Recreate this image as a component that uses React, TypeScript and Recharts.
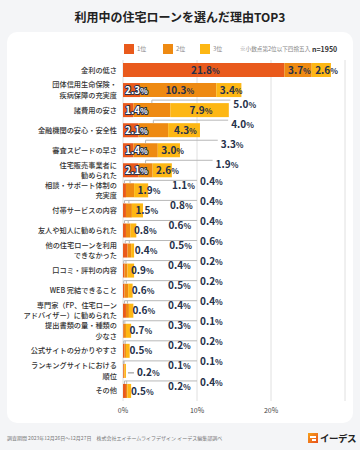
import { Bar, BarChart, CartesianGrid, XAxis, YAxis } from "recharts"

// reasons, top to bottom
const reasons = [
    "金利の低さ",
    "団体信用生命保険・\n疾病保障の充実度",
    "諸費用の安さ",
    "金融機関の安心・安全性",
    "審査スピードの早さ",
    "住宅販売事業者に\n勧められた",
    "相談・サポート体制の\n充実度",
    "付帯サービスの内容",
    "友人や知人に勧められた",
    "他の住宅ローンを利用\nできなかった",
    "口コミ・評判の内容",
    "WEB 完結できること",
    "専門家（FP、住宅ローン\nアドバイザー）に勧められた",
    "提出書類の量・種類の\n少なさ",
    "公式サイトの分かりやすさ",
    "ランキングサイトにおける\n順位",
    "その他",
]
const rank1 = [21.8, 2.3, 1.4, 2.1, 1.4, 2.1, 0.4, 0.4, 0.4, 0.6, 0.2, 0.2, 0.4, 0.1, 0.2, 0.1, 0.4]
const rank2 = [3.7, 10.3, 5.0, 4.0, 3.3, 1.9, 1.1, 0.8, 0.6, 0.5, 0.4, 0.5, 0.4, 0.3, 0.2, 0.1, 0.2]
const rank3 = [2.6, 3.4, 7.9, 4.3, 3.0, 2.6, 1.9, 1.5, 0.8, 0.4, 0.9, 0.6, 0.6, 0.7, 0.5, 0.2, 0.5]
const rankNames = ["1位", "2位", "3位"]
const xTicks = [0, 10, 20]

const C1 = "#E95A1C"
const C2 = "#EE8A12"
const C3 = "#FDB714"
const INK = "#25304a"
const LEADER = "#b8b8b8"
const FONT = '"Noto Sans CJK JP", "Noto Sans", sans-serif'

const data = reasons.map((name, i) => ({ name, r1: rank1[i], r2: rank2[i], r3: rank3[i] }))

// rough width of a "12.3%" label
const labelW = (v: number) =>
    v
        .toFixed(1)
        .split("")
        .reduce((s, c) => s + (c === "." ? 2.6 : 5.3), 0) + 6.8

function Pct({ x, y, v, white }: { x: number; y: number; v: number; white?: boolean }) {
    return (
        <text
            x={x}
            y={y}
            dy="0.36em"
            fontFamily={FONT}
            fontWeight={700}
            fontSize={10}
            fill={white ? "#fff" : INK}
            stroke={white ? INK : "none"}
            strokeWidth={white ? 2 : 0}
            strokeLinejoin="round"
            paintOrder="stroke"
        >
            {v.toFixed(1)}
            <tspan fontSize={8}>%</tspan>
        </text>
    )
}

// draws the 3位 segment plus every label of the row, so the labels sit above all bars
function RowShape(props: any) {
    const { x, y, width, height, index, payload } = props
    const { r1, r2, r3 } = payload
    const k = width / r3
    const x0 = x - (r1 + r2) * k
    const e1 = x0 + r1 * k
    const e2 = x
    const end = x + width
    const cy = y + height / 2
    const lineY = cy - 10
    const parts: any[] = [<rect key="r" x={x} y={y} width={width} height={height} fill={C3} />]

    if (index < 6) {
        const w = labelW(r1)
        const lx = Math.max((x0 + e1) / 2 - w / 2, x0 + 2)
        parts.push(<Pct key="l1" x={lx} y={cy} v={r1} white={w > e1 - x0} />)
    }
    if (index < 2) {
        const w = labelW(r2)
        parts.push(<Pct key="l2" x={Math.max((e1 + e2) / 2 - w / 2, e1 + 2)} y={cy} v={r2} />)
    } else if (index < 6) {
        const m2 = (e1 + e2) / 2
        parts.push(
            <path key="p2" d={`M${m2},${y} V${lineY} H${e2 + 60}`} stroke={LEADER} fill="none" />,
            <Pct key="l2" x={e2 + 63} y={cy - 6} v={r2} />
        )
    } else {
        const m1 = (x0 + e1) / 2
        const m2 = (e1 + e2) / 2
        const farX = x0 + 77
        const nearX = Math.max(e2 + 38, x0 + 45)
        parts.push(
            <path
                key="p1"
                d={`M${m1},${y} V${lineY} H${farX - 3} M${m2},${y} V${lineY}`}
                stroke={LEADER}
                fill="none"
            />,
            <Pct key="l1" x={farX} y={cy - 9} v={r1} />,
            <Pct key="l2" x={nearX} y={cy - 5} v={r2} />
        )
    }

    if (width < 2.5) {
        parts.push(
            <line key="d3" x1={end + 2} x2={end + 8} y1={cy + 2} y2={cy + 2} stroke="#888" />,
            <Pct key="l3" x={end + 11} y={cy + 2} v={r3} />
        )
    } else {
        const w = labelW(r3)
        parts.push(<Pct key="l3" x={Math.max(x + width / 2 - w / 2, x + 3.5)} y={cy} v={r3} />)
    }
    return <g>{parts}</g>
}

function ReasonTick({ x, y, payload }: any) {
    const lines = String(payload.value).split("\n")
    return (
        <text x={x} y={y} textAnchor="end" fontFamily={FONT} fontSize={7.2} fontWeight={500} fill="#333">
            {lines.map((l, i) => (
                <tspan key={i} x={x} y={y + (i - (lines.length - 1) / 2) * 10.5 + 2.5}>
                    {l}
                </tspan>
            ))}
        </text>
    )
}

const legendColors = [C1, C2, C3]
const legendX = [124, 163, 200]

export default function App() {
    return (
        <div
            style={{
                position: "absolute",
                left: 0,
                top: 0,
                width: 360,
                height: 450,
                background: "#f4f5f7",
                fontFamily: FONT,
                overflow: "hidden",
            }}
        >
            <div
                style={{
                    position: "absolute",
                    top: 8,
                    width: 360,
                    textAlign: "center",
                    fontSize: 12,
                    fontWeight: 700,
                    lineHeight: "17px",
                    color: "#222",
                }}
            >
                利用中の住宅ローンを選んだ理由TOP3
            </div>
            <div
                style={{
                    position: "absolute",
                    left: 7,
                    top: 32,
                    width: 346,
                    height: 391,
                    background: "#fff",
                    borderRadius: 10,
                }}
            />
            {rankNames.map((n, i) => (
                <div key={n}>
                    <div
                        style={{
                            position: "absolute",
                            left: legendX[i],
                            top: 44,
                            width: 10,
                            height: 10,
                            background: legendColors[i],
                        }}
                    />
                    <div
                        style={{
                            position: "absolute",
                            left: legendX[i] + 13,
                            top: 44,
                            fontSize: 6,
                            lineHeight: "10px",
                            color: "#888",
                        }}
                    >
                        {n}
                    </div>
                </div>
            ))}
            <div
                style={{
                    position: "absolute",
                    left: 240,
                    top: 44,
                    fontSize: 5.6,
                    lineHeight: "10px",
                    color: "#888",
                    whiteSpace: "nowrap",
                }}
            >
                ※小数点第2位以下四捨五入
            </div>
            <div
                style={{
                    position: "absolute",
                    left: 312,
                    top: 44,
                    fontSize: 7,
                    fontWeight: 700,
                    lineHeight: "10px",
                    color: "#333",
                }}
            >
                n=1950
            </div>

            <div style={{ position: "absolute", left: 0, top: 0 }}>
                <BarChart
                    width={360}
                    height={425}
                    data={data}
                    layout="vertical"
                    margin={{ top: 60, right: 15, left: 0, bottom: 4 }}
                >
                    <CartesianGrid horizontal={false} stroke="#e0e0e0" />
                    <XAxis
                        type="number"
                        domain={[0, 30]}
                        ticks={xTicks}
                        tickFormatter={(v) => `${v}%`}
                        axisLine={false}
                        tickLine={false}
                        tickSize={0}
                        tickMargin={7}
                        height={20}
                        tick={{ fontSize: 7, fill: "#444", fontFamily: FONT }}
                    />
                    <YAxis
                        type="category"
                        dataKey="name"
                        width={123}
                        axisLine={false}
                        tickLine={false}
                        tickSize={0}
                        tickMargin={6}
                        interval={0}
                        tick={<ReasonTick />}
                    />
                    <Bar dataKey="r1" stackId="a" fill={C1} barSize={14} isAnimationActive={false} />
                    <Bar dataKey="r2" stackId="a" fill={C2} barSize={14} isAnimationActive={false} />
                    <Bar
                        dataKey="r3"
                        stackId="a"
                        fill={C3}
                        barSize={14}
                        isAnimationActive={false}
                        shape={(p: any) => <RowShape {...p} />}
                    />
                </BarChart>
            </div>

            <div style={{ position: "absolute", left: 7, top: 435, fontSize: 5, lineHeight: "6px", color: "#777" }}>
                調査期間 2023年12月26日～12月27日　株式会社エイチームライフデザイン イーデス編集部調べ
            </div>
            <div
                style={{
                    position: "absolute",
                    left: 308,
                    top: 433,
                    width: 10,
                    height: 10,
                    background: "linear-gradient(135deg, #f7a21b, #e8501d)",
                }}
            >
                <div style={{ position: "absolute", left: 2, top: 3, width: 6, height: 1.5, background: "#fff" }} />
                <div style={{ position: "absolute", left: 4, top: 6, width: 4, height: 1.5, background: "#fff" }} />
            </div>
            <div
                style={{
                    position: "absolute",
                    left: 320,
                    top: 432,
                    fontSize: 9.5,
                    fontWeight: 700,
                    lineHeight: "12px",
                    color: "#222",
                    letterSpacing: -0.5,
                }}
            >
                イーデス
            </div>
        </div>
    )
}
